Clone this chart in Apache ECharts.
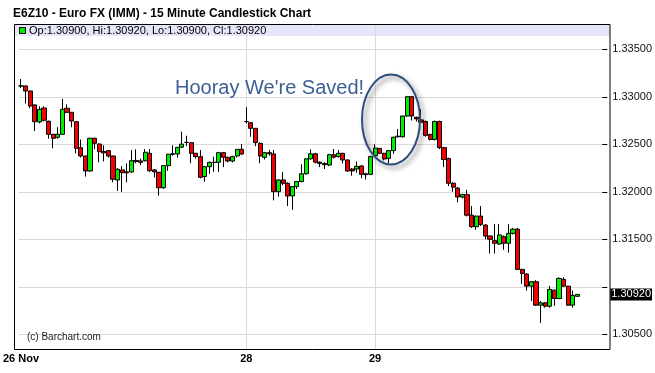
<!DOCTYPE html>
<html>
<head>
<meta charset="utf-8">
<script src="https://cdn.jsdelivr.net/npm/echarts@6/dist/echarts.min.js"></script>
<style>
html,body{margin:0;padding:0;background:#fff;}
#chart{width:655px;height:373px;}
</style>
</head>
<body>
<div id="chart"></div>
<script>
// ---- Data (E6Z10, 15 minute bars) ----
const days = ['26 Nov', '28', '29'];
const dayStartTimes = ['00:00', '17:00', '00:00'];
const dayBarCounts = [49, 28, 45];

const opens = [
1.33114,1.33114,1.33061,1.32914,1.32735,1.32882,1.32742,1.32605,1.32574,1.32605,
1.32879,1.32837,1.32738,1.32464,1.32377,1.32220,1.32563,1.32503,1.32425,1.32433,
1.32377,1.32124,1.32230,1.32210,1.32209,1.32330,1.32325,1.32327,1.32405,1.32230,
1.32205,1.32043,1.32275,1.32395,1.32398,1.32470,1.32520,1.32517,1.32405,1.32370,
1.32160,1.32264,1.32310,1.32311,1.32412,1.32363,1.32324,1.32377,1.32447,
1.32739,1.32728,1.32668,1.32510,1.32363,1.32412,1.32398,1.32002,1.32125,1.32090,
1.31956,1.32055,1.32108,1.32190,1.32347,1.32400,1.32312,1.32298,1.32282,1.32390,
1.32370,1.32405,1.32335,1.32240,1.32240,1.32272,1.32190,1.32184,
1.32380,1.32457,1.32405,1.32352,1.32433,1.32580,1.32580,1.32798,1.33001,1.32785,
1.32757,1.32740,1.32604,1.32552,1.32740,1.32465,1.32350,1.32090,1.32039,1.31945,
1.31970,1.31754,1.31633,1.31744,1.31650,1.31535,1.31486,1.31451,1.31528,1.31458,
1.31563,1.31606,1.31183,1.31134,1.31007,1.31053,1.30807,1.30831,1.30796,1.30965,
1.30877,1.31078,1.31007,1.30807,1.30900
];
const closes = [
1.33114,1.33061,1.32903,1.32738,1.32868,1.32753,1.32605,1.32563,1.32605,1.32868,
1.32837,1.32745,1.32458,1.32377,1.32220,1.32563,1.32511,1.32422,1.32410,1.32377,
1.32132,1.32237,1.32201,1.32200,1.32327,1.32320,1.32310,1.32416,1.32222,1.32210,
1.32043,1.32275,1.32395,1.32400,1.32468,1.32502,1.32520,1.32405,1.32370,1.32153,
1.32264,1.32310,1.32310,1.32412,1.32363,1.32324,1.32370,1.32447,1.32398,
1.32739,1.32668,1.32518,1.32377,1.32412,1.32400,1.32002,1.32125,1.32090,1.31956,
1.32055,1.32108,1.32190,1.32347,1.32400,1.32312,1.32298,1.32285,1.32390,1.32365,
1.32405,1.32335,1.32219,1.32220,1.32268,1.32184,1.32180,1.32370,
1.32460,1.32405,1.32345,1.32433,1.32574,1.32585,1.32798,1.33001,1.32798,1.32767,
1.32733,1.32594,1.32552,1.32740,1.32465,1.32340,1.32090,1.32049,1.31945,1.31970,
1.31754,1.31633,1.31744,1.31657,1.31535,1.31500,1.31458,1.31546,1.31458,1.31563,
1.31606,1.31183,1.31141,1.31007,1.31053,1.30807,1.30831,1.30796,1.30972,1.30877,
1.31088,1.31007,1.30807,1.30909,1.30920
];
const lows = [
1.33093,1.32930,1.32880,1.32640,1.32720,1.32740,1.32560,1.32458,1.32560,1.32600,
1.32830,1.32680,1.32405,1.32360,1.32160,1.32210,1.32450,1.32310,1.32320,1.32360,
1.32100,1.32008,1.32000,1.32100,1.32200,1.32300,1.32280,1.32320,1.32210,1.32150,
1.31960,1.32030,1.32220,1.32380,1.32360,1.32460,1.32480,1.32300,1.32350,1.32140,
1.32106,1.32190,1.32210,1.32210,1.32260,1.32310,1.32310,1.32360,1.32390,
1.32720,1.32580,1.32480,1.32300,1.32340,1.32380,1.31910,1.31950,1.32070,1.31850,
1.31810,1.32030,1.32100,1.32180,1.32340,1.32300,1.32260,1.32240,1.32270,1.32350,
1.32360,1.32300,1.32210,1.32170,1.32200,1.32142,1.32130,1.32180,
1.32370,1.32400,1.32330,1.32300,1.32400,1.32570,1.32570,1.32790,1.32750,1.32740,
1.32720,1.32580,1.32540,1.32540,1.32450,1.32260,1.32060,1.32000,1.31890,1.31930,
1.31740,1.31620,1.31600,1.31640,1.31500,1.31350,1.31350,1.31440,1.31390,1.31360,
1.31550,1.31180,1.31030,1.30960,1.30850,1.30800,1.30620,1.30780,1.30780,1.30800,
1.30870,1.31000,1.30800,1.30780,1.30900
];
const highs = [
1.33187,1.33120,1.33065,1.32920,1.32900,1.32900,1.32750,1.32610,1.32680,1.32977,
1.32920,1.32840,1.32740,1.32550,1.32380,1.32570,1.32570,1.32510,1.32490,1.32440,
1.32380,1.32250,1.32270,1.32300,1.32440,1.32447,1.32350,1.32450,1.32450,1.32240,
1.32210,1.32280,1.32400,1.32490,1.32470,1.32633,1.32590,1.32520,1.32410,1.32440,
1.32270,1.32320,1.32370,1.32420,1.32420,1.32370,1.32380,1.32450,1.32503,
1.32890,1.32730,1.32670,1.32520,1.32420,1.32440,1.32440,1.32130,1.32210,1.32100,
1.32060,1.32110,1.32290,1.32350,1.32447,1.32410,1.32320,1.32310,1.32400,1.32450,
1.32440,1.32410,1.32340,1.32250,1.32320,1.32280,1.32200,1.32380,
1.32500,1.32460,1.32410,1.32440,1.32580,1.32660,1.32800,1.33010,1.33010,1.32790,
1.32870,1.32750,1.32610,1.32750,1.32750,1.32470,1.32360,1.32100,1.32050,1.31980,
1.32020,1.31850,1.31750,1.31850,1.31660,1.31540,1.31660,1.31660,1.31540,1.31660,
1.31620,1.31620,1.31190,1.31140,1.31060,1.31070,1.30850,1.30840,1.31010,1.30970,
1.31100,1.31100,1.31010,1.30960,1.30920
];
const yTickValues = [1.305, 1.310, 1.315, 1.320, 1.325, 1.330, 1.335];
const lastBar = { op: 1.30900, hi: 1.30920, lo: 1.30900, cl: 1.30920 };

// ---- Build categories (bar times) ----
const TOTAL_SLOTS = 128;
const categories = [];
const dayStartIdx = [];
days.forEach((d, di) => {
  dayStartIdx.push(categories.length);
  let [h, m] = dayStartTimes[di].split(':').map(Number);
  for (let i = 0; i < dayBarCounts[di]; i++) {
    const t = (h < 10 ? '0' : '') + h + ':' + (m < 10 ? '0' : '') + m;
    categories.push(d + ' ' + t);
    m += 15; if (m >= 60) { m -= 60; h += 1; }
  }
});
while (categories.length < TOTAL_SLOTS) categories.push('pad' + categories.length);

const candleData = opens.map((o, i) => [o, closes[i], lows[i], highs[i]]);

// fine axis: points at every half slot, so bar centres fall on points
const fineCats = [];
for (let j = 0; j <= TOTAL_SLOTS * 2; j++) fineCats.push('p' + j);
const labelAt = {};
dayStartIdx.forEach((k, di) => { labelAt[2 * k + 1] = days[di]; });
const gridLineAt = {};
dayStartIdx.slice(1).forEach(k => { gridLineAt[2 * k + 1] = true; });

const FONT = "'Liberation Sans', Arial, sans-serif";
const GRID = { left: 14, top: 24, width: 596, height: 325 };
const Y_MIN = 1.303453, Y_MAX = 1.337663;

const chart = echarts.init(document.getElementById('chart'), null, { renderer: 'canvas' });
const fmt = v => v.toFixed(5);
// tick labels that collide with the last-price box are hidden
const isTick = v => yTickValues.some(t => Math.abs(t - v) < 1e-7) && Math.abs(v - lastBar.cl) > 0.0015;

chart.setOption({
  animation: false,
  backgroundColor: '#fff',
  grid: [{ left: GRID.left, top: GRID.top, width: GRID.width, height: GRID.height, show: false }],
  xAxis: [
    { type: 'category', gridIndex: 0, data: categories, show: false, boundaryGap: true },
    { type: 'category', gridIndex: 0, data: fineCats, boundaryGap: false, position: 'bottom',
      axisLine: { show: false }, axisTick: { show: false },
      axisLabel: { interval: 0, formatter: (v, i) => labelAt[i] || '', fontWeight: 'bold', fontSize: 11,
        fontFamily: FONT, color: '#000', margin: 4 },
      splitLine: { show: true, interval: (i) => !!gridLineAt[i], lineStyle: { color: '#d9d9d9', width: 1 } } }
  ],
  yAxis: [{
    type: 'value', gridIndex: 0, position: 'right', min: Y_MIN, max: Y_MAX, splitNumber: 6,
    axisLine: { show: false },
    axisTick: { show: true, inside: true, length: 5, lineStyle: { color: '#000' } },
    axisLabel: { margin: 5, fontSize: 11, fontFamily: FONT, color: '#111', formatter: v => isTick(v) ? fmt(v) : '' },
    splitLine: { show: true, lineStyle: { color: '#d9d9d9', width: 1 } }
  }],
  series: [{
    type: 'candlestick', xAxisIndex: 0, yAxisIndex: 0, data: candleData, barWidth: 4.6,
    itemStyle: { color: '#00ee00', color0: '#f00000', borderColor: '#000', borderColor0: '#000', borderWidth: 1 },
    markLine: {
      silent: true, symbol: 'none', animation: false, precision: 5,
      lineStyle: { color: 'rgba(0,0,0,0)', width: 0 },
      data: [{ yAxis: lastBar.cl }],
      label: { show: true, position: 'end', distance: 3, formatter: () => fmt(lastBar.cl),
        backgroundColor: '#000', color: '#fff', fontSize: 11, fontFamily: FONT, padding: [1, 1, 0, 1] }
    }
  }],
  graphic: [
    { type: 'rect', z: -1, shape: { x: GRID.left, y: GRID.top, width: GRID.width, height: 12 },
      style: { fill: '#e6e6fa' } },
    { type: 'rect', z: 100, shape: { x: GRID.left + 0.5, y: GRID.top + 0.5, width: GRID.width - 0.5, height: GRID.height },
      style: { fill: 'none', stroke: '#000', lineWidth: 1 } },
    { type: 'text', z: 100, x: 13, y: 14,
      style: { text: 'E6Z10 - Euro FX (IMM) - 15 Minute Candlestick Chart', font: 'bold 12px ' + FONT, fill: '#000', verticalAlign: 'middle' } },
    { type: 'rect', z: 100, shape: { x: 19.5, y: 27.5, width: 6, height: 6 },
      style: { fill: '#00ee00', stroke: '#000', lineWidth: 1 } },
    { type: 'text', z: 100, x: 29, y: 31,
      style: { text: 'Op:' + fmt(lastBar.op) + ', Hi:' + fmt(lastBar.hi) + ', Lo:' + fmt(lastBar.lo) + ', Cl:' + fmt(lastBar.cl),
        font: '11px ' + FONT, fill: '#000', verticalAlign: 'middle' } },
    { type: 'text', z: 100, x: 27, y: 337,
      style: { text: '(c) Barchart.com', font: '10px ' + FONT, fill: '#222', verticalAlign: 'middle' } },
    { type: 'text', z: 100, x: 175, y: 88,
      style: { text: "Hooray We're Saved!", font: '20px ' + FONT, fill: '#3b5f94', verticalAlign: 'middle' } },
    { type: 'ellipse', z: 100, shape: { cx: 391, cy: 119.5, rx: 29, ry: 45 },
      style: { fill: 'none', stroke: '#2c4d7e', lineWidth: 2, shadowBlur: 5, shadowColor: 'rgba(0,0,0,0.5)', shadowOffsetX: 3, shadowOffsetY: 3 } }
  ]
});
</script>
</body>
</html>
